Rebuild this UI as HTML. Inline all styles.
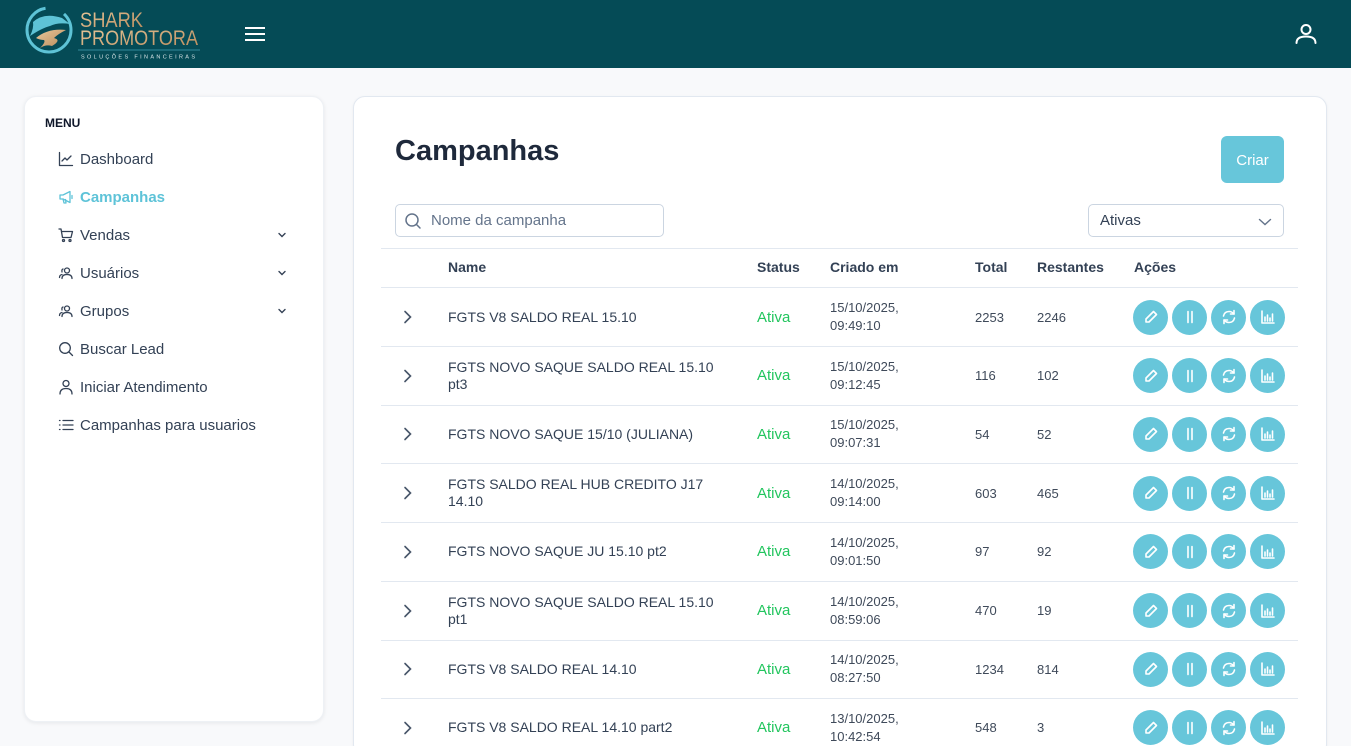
<!DOCTYPE html>
<html><head><meta charset="utf-8">
<style>
*{box-sizing:border-box;margin:0;padding:0}
html,body{width:1351px;height:746px;overflow:hidden;background:#f8f9fb;font-family:"Liberation Sans",Arial,sans-serif;color:#334155}
#wrap{position:relative;width:1351px;height:746px;overflow:hidden;background:#f8f9fb}
.hdr{position:absolute;left:0;top:0;width:1351px;height:68px;background:#054b56}
.side{position:absolute;left:24px;top:96px;width:300px;height:626px;background:#fff;border-radius:12px;box-shadow:0 1px 4px rgba(15,23,42,.08);border:1px solid #eef1f5}
.menu{position:absolute;left:20px;top:19px;font-size:12px;font-weight:bold;color:#0f172a}
.item{position:absolute;left:33px;height:20px;display:flex;align-items:center;font-size:15px;color:#334155}
.item svg{width:16px;height:16px;margin-right:6px;fill:none;stroke:#334155;stroke-width:1.3;stroke-linecap:round;stroke-linejoin:round}
.item.act{color:#5ec3d8;font-weight:bold}
.item.act svg{stroke:#5ec3d8}
.chev{position:absolute;left:252px;width:10px;height:10px}
.main{position:absolute;left:353px;top:96px;width:974px;height:660px;background:#fff;border:1px solid #e2e8f0;border-radius:12px;box-shadow:0 1px 3px rgba(15,23,42,.05)}
.title{position:absolute;left:395px;top:135px;font-size:29px;font-weight:bold;color:#1e293b}
.btn{position:absolute;left:1221px;top:136px;width:63px;height:47px;background:#67c6da;border-radius:6px;color:#fff;font-size:15px;display:flex;align-items:center;justify-content:center;padding-top:2px}
.inp{position:absolute;top:204px;height:33px;border:1px solid #cbd5e1;border-radius:5px;background:#fff;display:flex;align-items:center;font-size:15px}
.tline{position:absolute;left:381px;width:917px;height:1px;background:#e2e8f0}
.th{position:absolute;top:259px;font-size:14px;font-weight:bold;color:#334155}
.row{position:absolute;left:381px;width:917px;height:59px;border-bottom:1px solid #e2e8f0}
.c{position:absolute;top:0;height:100%;display:flex;align-items:center}
.nm{left:67px;font-size:14px;line-height:17px;color:#334155}
.st{left:376px;font-size:15px;color:#22c55e}
.dt{left:449px;font-size:13px;line-height:18px;color:#3f4a5a}
.tt{left:594px;font-size:13px;color:#3f4a5a}
.rs{left:656px;font-size:13px;color:#3f4a5a}
.ac{left:752px;gap:4px}
.cb{width:35px;height:35px;border-radius:50%;background:#67c6da;display:flex;align-items:center;justify-content:center}
.cb svg{width:18px;height:18px;fill:none;stroke:#fff;stroke-width:1.6;stroke-linecap:round;stroke-linejoin:round}
.ch{left:22px}
</style></head><body>
<div id="wrap">
<div class="hdr">
<svg width="240" height="68" style="position:absolute;left:0;top:0">
  <defs>
    <linearGradient id="g" x1="0" y1="0" x2="1" y2="1"><stop offset="0" stop-color="#e7c79a"/><stop offset="1" stop-color="#b8895a"/></linearGradient>
  </defs>
  <circle cx="49" cy="30" r="22" fill="none" stroke="#5ec3d6" stroke-width="3" stroke-dasharray="100 20"/>
  <path d="M33 22 Q44 12 62 18 L70 24 Q58 22 50 26 Q42 28 30 36 Q34 28 33 22Z" fill="#5ec3d6"/>
  <path d="M36 38 Q48 28 66 30 Q58 34 54 38 Q62 40 52 46 Q46 44 40 48 Q46 42 44 40 Q40 40 36 38Z" fill="url(#g)"/>
  <text x="80" y="27" font-family="Liberation Sans" font-size="21" fill="url(#g)" textLength="63" lengthAdjust="spacingAndGlyphs">SHARK</text>
  <text x="80" y="45" font-family="Liberation Sans" font-size="21" fill="url(#g)" textLength="118" lengthAdjust="spacingAndGlyphs">PROMOTORA</text>
  <line x1="78" y1="50" x2="200" y2="50" stroke="#5ec3d6" stroke-width="0.8" opacity="0.7"/>
  <text x="81" y="58.5" font-family="Liberation Sans" font-size="5.5" fill="#d8e4e6" textLength="114" lengthAdjust="spacing">SOLUÇÕES FINANCEIRAS</text>
</svg>
<div style="position:absolute;left:245px;top:27px;width:20px;height:2px;background:#fff"></div>
<div style="position:absolute;left:245px;top:33px;width:20px;height:2px;background:#fff"></div>
<div style="position:absolute;left:245px;top:39px;width:20px;height:2px;background:#fff"></div>
<svg width="26" height="26" style="position:absolute;left:1293px;top:21px" fill="none" stroke="#fff" stroke-width="2" stroke-linecap="round"><circle cx="13" cy="8.5" r="4.5"/><path d="M3.5 22 Q3.5 15.5 13 15.5 Q22.5 15.5 22.5 22"/></svg>
</div>

<div class="side">
  <div class="menu">MENU</div>
  <div class="item" style="top:52px"><svg viewBox="0 0 16 16"><path d="M1.5 1.5V14.5H14.5"/><path d="M4 10L7 7L9 9L13 5"/></svg>Dashboard</div>
  <div class="item act" style="top:90px"><svg viewBox="0 0 16 16"><path d="M2 6H5L12 2.5V13.5L5 10H2Z"/><path d="M5 10L6 14H8L7.5 10.5"/><path d="M14 6.5V9.5"/></svg>Campanhas</div>
  <div class="item" style="top:128px"><svg viewBox="0 0 16 16"><path d="M1 2H3L4.5 10.5H13L14.5 4.5H4"/><circle cx="5.5" cy="13.5" r="1"/><circle cx="12" cy="13.5" r="1"/></svg>Vendas</div>
  <div class="item" style="top:166px"><svg viewBox="0 0 16 16"><circle cx="9" cy="5.5" r="2.5"/><path d="M4 13.5Q4 9.5 9 9.5Q14 9.5 14 13.5"/><path d="M5 4Q3.5 4.5 4 7"/><path d="M1.5 12.5Q1.5 10 4 9.5"/></svg>Usuários</div>
  <div class="item" style="top:204px"><svg viewBox="0 0 16 16"><circle cx="9" cy="5.5" r="2.5"/><path d="M4 13.5Q4 9.5 9 9.5Q14 9.5 14 13.5"/><path d="M5 4Q3.5 4.5 4 7"/><path d="M1.5 12.5Q1.5 10 4 9.5"/></svg>Grupos</div>
  <div class="item" style="top:242px"><svg viewBox="0 0 16 16"><circle cx="7" cy="7" r="5.3"/><path d="M11 11L14.5 14.5"/></svg>Buscar Lead</div>
  <div class="item" style="top:280px"><svg viewBox="0 0 16 16"><circle cx="8" cy="4.5" r="3"/><path d="M2 15Q2 9.5 8 9.5Q14 9.5 14 15"/></svg>Iniciar Atendimento</div>
  <div class="item" style="top:318px"><svg viewBox="0 0 16 16"><path d="M5 3.5H15M5 8H15M5 12.5H15"/><path d="M1.5 3.5H2M1.5 8H2M1.5 12.5H2"/></svg>Campanhas para usuarios</div>
  <svg class="chev" style="top:133px" viewBox="0 0 10 10" fill="none" stroke="#334155" stroke-width="1.4" stroke-linecap="round"><path d="M2 3.5L5 6.5L8 3.5"/></svg>
  <svg class="chev" style="top:171px" viewBox="0 0 10 10" fill="none" stroke="#334155" stroke-width="1.4" stroke-linecap="round"><path d="M2 3.5L5 6.5L8 3.5"/></svg>
  <svg class="chev" style="top:209px" viewBox="0 0 10 10" fill="none" stroke="#334155" stroke-width="1.4" stroke-linecap="round"><path d="M2 3.5L5 6.5L8 3.5"/></svg>
</div>

<div class="main"></div>
<div class="title">Campanhas</div>
<div class="btn">Criar</div>
<div class="inp" style="left:395px;width:269px;color:#64748b">
  <svg width="18" height="18" style="margin-left:8px;margin-right:9px" fill="none" stroke="#64748b" stroke-width="1.5" stroke-linecap="round"><circle cx="8" cy="8" r="6"/><path d="M12.5 12.5L16 16"/></svg>Nome da campanha
</div>
<div class="inp" style="left:1088px;width:196px;color:#334155;padding-left:11px">Ativas
  <svg width="14" height="10" style="position:absolute;right:11px;top:12px" fill="none" stroke="#64748b" stroke-width="1.4" stroke-linecap="round"><path d="M1.5 2.5L7 7.5L12.5 2.5"/></svg>
</div>

<div class="tline" style="top:248px"></div>
<div class="th" style="left:448px">Name</div>
<div class="th" style="left:757px">Status</div>
<div class="th" style="left:830px">Criado em</div>
<div class="th" style="left:975px">Total</div>
<div class="th" style="left:1037px">Restantes</div>
<div class="th" style="left:1134px">Ações</div>
<div class="tline" style="top:287px"></div>

<div class="row" style="top:288px"><div class="c ch"><svg width="10" height="14" fill="none" stroke="#475569" stroke-width="1.6" stroke-linecap="round"><path d="M2 1.5L7.5 7L2 12.5"/></svg></div><div class="c nm">FGTS V8 SALDO REAL 15.10</div><div class="c st">Ativa</div><div class="c dt">15/10/2025,<br>09:49:10</div><div class="c tt">2253</div><div class="c rs">2246</div><div class="c ac">
<div class="cb"><svg viewBox="0 0 18 18"><path d="M11.5 3.5L14.5 6.5L7 14H4V11Z"/></svg></div><div class="cb"><svg viewBox="0 0 18 18"><path d="M7 3.5V14.5M11 3.5V14.5"/></svg></div><div class="cb"><svg viewBox="0 0 18 18"><path d="M3.5 8Q4.5 3.5 9 3.5Q12 3.5 14 6"/><path d="M14 2.5V6H10.5"/><path d="M14.5 10Q13.5 14.5 9 14.5Q6 14.5 4 12"/><path d="M4 15.5V12H7.5"/></svg></div><div class="cb"><svg viewBox="0 0 18 18"><path d="M3 3V15H15"/><path d="M6 13V9M8.5 13V7M11 13V10M13.5 13V6"/></svg></div></div></div>

<div class="row" style="top:346.7px"><div class="c ch"><svg width="10" height="14" fill="none" stroke="#475569" stroke-width="1.6" stroke-linecap="round"><path d="M2 1.5L7.5 7L2 12.5"/></svg></div><div class="c nm">FGTS NOVO SAQUE SALDO REAL 15.10<br>pt3</div><div class="c st">Ativa</div><div class="c dt">15/10/2025,<br>09:12:45</div><div class="c tt">116</div><div class="c rs">102</div><div class="c ac">
<div class="cb"><svg viewBox="0 0 18 18"><path d="M11.5 3.5L14.5 6.5L7 14H4V11Z"/></svg></div><div class="cb"><svg viewBox="0 0 18 18"><path d="M7 3.5V14.5M11 3.5V14.5"/></svg></div><div class="cb"><svg viewBox="0 0 18 18"><path d="M3.5 8Q4.5 3.5 9 3.5Q12 3.5 14 6"/><path d="M14 2.5V6H10.5"/><path d="M14.5 10Q13.5 14.5 9 14.5Q6 14.5 4 12"/><path d="M4 15.5V12H7.5"/></svg></div><div class="cb"><svg viewBox="0 0 18 18"><path d="M3 3V15H15"/><path d="M6 13V9M8.5 13V7M11 13V10M13.5 13V6"/></svg></div></div></div>

<div class="row" style="top:405.4px"><div class="c ch"><svg width="10" height="14" fill="none" stroke="#475569" stroke-width="1.6" stroke-linecap="round"><path d="M2 1.5L7.5 7L2 12.5"/></svg></div><div class="c nm">FGTS NOVO SAQUE 15/10 (JULIANA)</div><div class="c st">Ativa</div><div class="c dt">15/10/2025,<br>09:07:31</div><div class="c tt">54</div><div class="c rs">52</div><div class="c ac">
<div class="cb"><svg viewBox="0 0 18 18"><path d="M11.5 3.5L14.5 6.5L7 14H4V11Z"/></svg></div><div class="cb"><svg viewBox="0 0 18 18"><path d="M7 3.5V14.5M11 3.5V14.5"/></svg></div><div class="cb"><svg viewBox="0 0 18 18"><path d="M3.5 8Q4.5 3.5 9 3.5Q12 3.5 14 6"/><path d="M14 2.5V6H10.5"/><path d="M14.5 10Q13.5 14.5 9 14.5Q6 14.5 4 12"/><path d="M4 15.5V12H7.5"/></svg></div><div class="cb"><svg viewBox="0 0 18 18"><path d="M3 3V15H15"/><path d="M6 13V9M8.5 13V7M11 13V10M13.5 13V6"/></svg></div></div></div>

<div class="row" style="top:464.1px"><div class="c ch"><svg width="10" height="14" fill="none" stroke="#475569" stroke-width="1.6" stroke-linecap="round"><path d="M2 1.5L7.5 7L2 12.5"/></svg></div><div class="c nm">FGTS SALDO REAL HUB CREDITO J17<br>14.10</div><div class="c st">Ativa</div><div class="c dt">14/10/2025,<br>09:14:00</div><div class="c tt">603</div><div class="c rs">465</div><div class="c ac">
<div class="cb"><svg viewBox="0 0 18 18"><path d="M11.5 3.5L14.5 6.5L7 14H4V11Z"/></svg></div><div class="cb"><svg viewBox="0 0 18 18"><path d="M7 3.5V14.5M11 3.5V14.5"/></svg></div><div class="cb"><svg viewBox="0 0 18 18"><path d="M3.5 8Q4.5 3.5 9 3.5Q12 3.5 14 6"/><path d="M14 2.5V6H10.5"/><path d="M14.5 10Q13.5 14.5 9 14.5Q6 14.5 4 12"/><path d="M4 15.5V12H7.5"/></svg></div><div class="cb"><svg viewBox="0 0 18 18"><path d="M3 3V15H15"/><path d="M6 13V9M8.5 13V7M11 13V10M13.5 13V6"/></svg></div></div></div>

<div class="row" style="top:522.8px"><div class="c ch"><svg width="10" height="14" fill="none" stroke="#475569" stroke-width="1.6" stroke-linecap="round"><path d="M2 1.5L7.5 7L2 12.5"/></svg></div><div class="c nm">FGTS NOVO SAQUE JU 15.10 pt2</div><div class="c st">Ativa</div><div class="c dt">14/10/2025,<br>09:01:50</div><div class="c tt">97</div><div class="c rs">92</div><div class="c ac">
<div class="cb"><svg viewBox="0 0 18 18"><path d="M11.5 3.5L14.5 6.5L7 14H4V11Z"/></svg></div><div class="cb"><svg viewBox="0 0 18 18"><path d="M7 3.5V14.5M11 3.5V14.5"/></svg></div><div class="cb"><svg viewBox="0 0 18 18"><path d="M3.5 8Q4.5 3.5 9 3.5Q12 3.5 14 6"/><path d="M14 2.5V6H10.5"/><path d="M14.5 10Q13.5 14.5 9 14.5Q6 14.5 4 12"/><path d="M4 15.5V12H7.5"/></svg></div><div class="cb"><svg viewBox="0 0 18 18"><path d="M3 3V15H15"/><path d="M6 13V9M8.5 13V7M11 13V10M13.5 13V6"/></svg></div></div></div>

<div class="row" style="top:581.5px"><div class="c ch"><svg width="10" height="14" fill="none" stroke="#475569" stroke-width="1.6" stroke-linecap="round"><path d="M2 1.5L7.5 7L2 12.5"/></svg></div><div class="c nm">FGTS NOVO SAQUE SALDO REAL 15.10<br>pt1</div><div class="c st">Ativa</div><div class="c dt">14/10/2025,<br>08:59:06</div><div class="c tt">470</div><div class="c rs">19</div><div class="c ac">
<div class="cb"><svg viewBox="0 0 18 18"><path d="M11.5 3.5L14.5 6.5L7 14H4V11Z"/></svg></div><div class="cb"><svg viewBox="0 0 18 18"><path d="M7 3.5V14.5M11 3.5V14.5"/></svg></div><div class="cb"><svg viewBox="0 0 18 18"><path d="M3.5 8Q4.5 3.5 9 3.5Q12 3.5 14 6"/><path d="M14 2.5V6H10.5"/><path d="M14.5 10Q13.5 14.5 9 14.5Q6 14.5 4 12"/><path d="M4 15.5V12H7.5"/></svg></div><div class="cb"><svg viewBox="0 0 18 18"><path d="M3 3V15H15"/><path d="M6 13V9M8.5 13V7M11 13V10M13.5 13V6"/></svg></div></div></div>

<div class="row" style="top:640.2px"><div class="c ch"><svg width="10" height="14" fill="none" stroke="#475569" stroke-width="1.6" stroke-linecap="round"><path d="M2 1.5L7.5 7L2 12.5"/></svg></div><div class="c nm">FGTS V8 SALDO REAL 14.10</div><div class="c st">Ativa</div><div class="c dt">14/10/2025,<br>08:27:50</div><div class="c tt">1234</div><div class="c rs">814</div><div class="c ac">
<div class="cb"><svg viewBox="0 0 18 18"><path d="M11.5 3.5L14.5 6.5L7 14H4V11Z"/></svg></div><div class="cb"><svg viewBox="0 0 18 18"><path d="M7 3.5V14.5M11 3.5V14.5"/></svg></div><div class="cb"><svg viewBox="0 0 18 18"><path d="M3.5 8Q4.5 3.5 9 3.5Q12 3.5 14 6"/><path d="M14 2.5V6H10.5"/><path d="M14.5 10Q13.5 14.5 9 14.5Q6 14.5 4 12"/><path d="M4 15.5V12H7.5"/></svg></div><div class="cb"><svg viewBox="0 0 18 18"><path d="M3 3V15H15"/><path d="M6 13V9M8.5 13V7M11 13V10M13.5 13V6"/></svg></div></div></div>

<div class="row" style="top:698.9px"><div class="c ch"><svg width="10" height="14" fill="none" stroke="#475569" stroke-width="1.6" stroke-linecap="round"><path d="M2 1.5L7.5 7L2 12.5"/></svg></div><div class="c nm">FGTS V8 SALDO REAL 14.10 part2</div><div class="c st">Ativa</div><div class="c dt">13/10/2025,<br>10:42:54</div><div class="c tt">548</div><div class="c rs">3</div><div class="c ac">
<div class="cb"><svg viewBox="0 0 18 18"><path d="M11.5 3.5L14.5 6.5L7 14H4V11Z"/></svg></div><div class="cb"><svg viewBox="0 0 18 18"><path d="M7 3.5V14.5M11 3.5V14.5"/></svg></div><div class="cb"><svg viewBox="0 0 18 18"><path d="M3.5 8Q4.5 3.5 9 3.5Q12 3.5 14 6"/><path d="M14 2.5V6H10.5"/><path d="M14.5 10Q13.5 14.5 9 14.5Q6 14.5 4 12"/><path d="M4 15.5V12H7.5"/></svg></div><div class="cb"><svg viewBox="0 0 18 18"><path d="M3 3V15H15"/><path d="M6 13V9M8.5 13V7M11 13V10M13.5 13V6"/></svg></div></div></div>
</div>
</body></html>
